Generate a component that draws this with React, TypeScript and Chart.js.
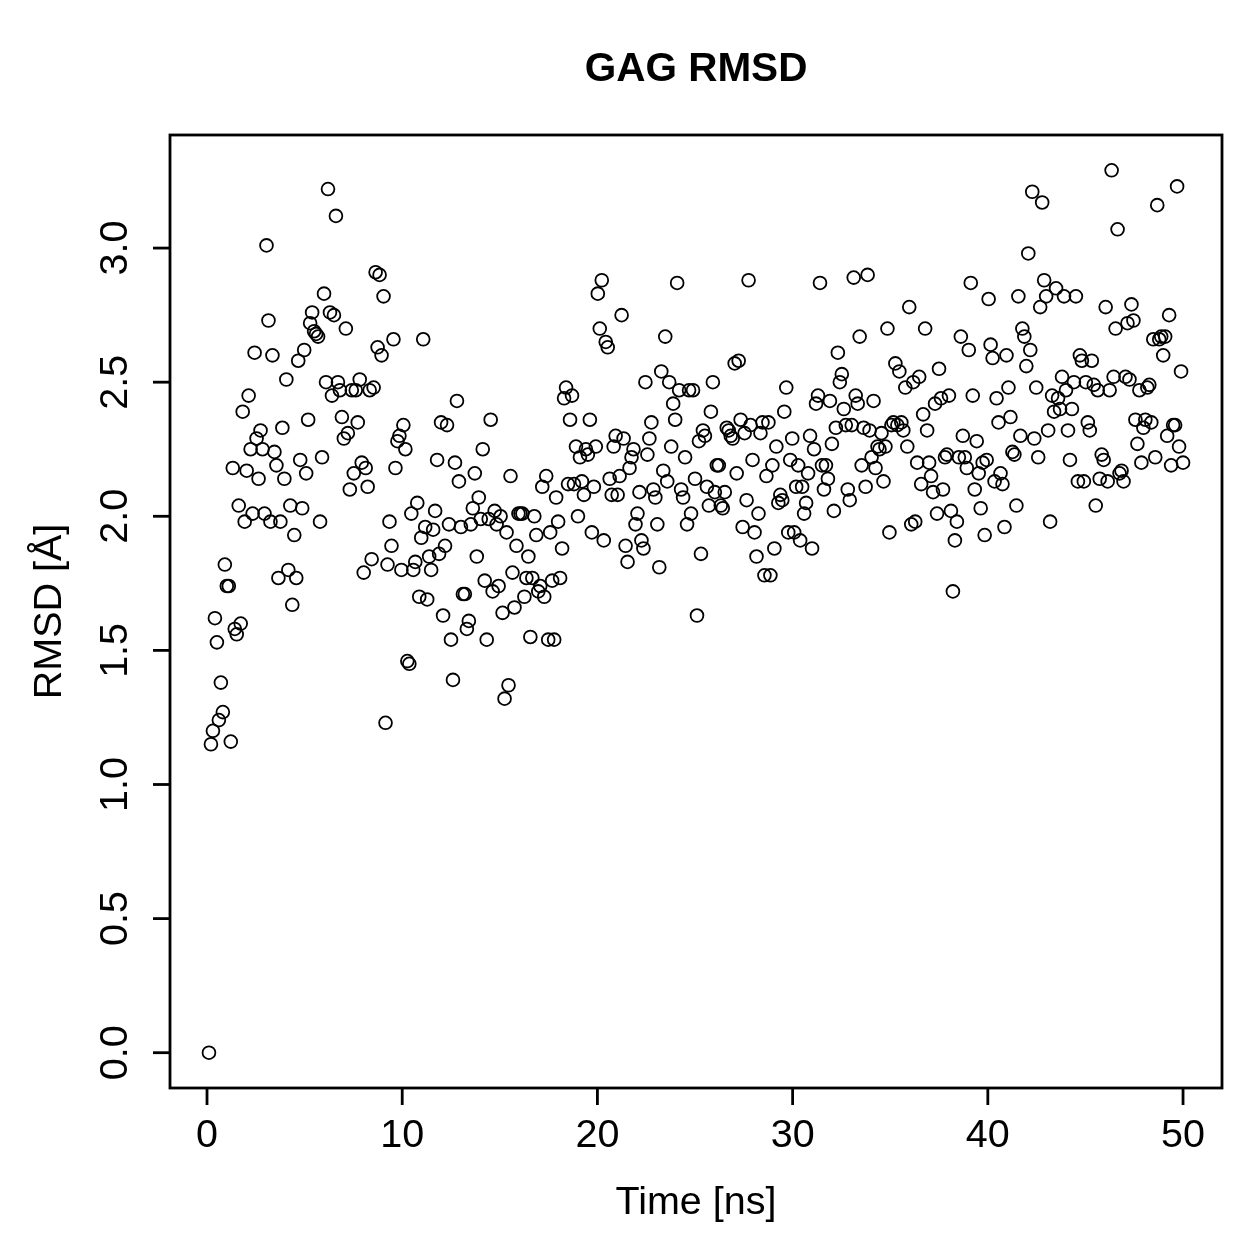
import React, { useEffect, useRef } from "react";
import { Chart, registerables } from "chart.js";

Chart.register(...registerables);

// RMSD of the GAG ligand, one value per saved frame (Å)
const RMSD = [
  0.00, 1.15, 1.20, 1.62, 1.53, 1.24, 1.38, 1.27, 1.82, 1.74, 1.74, 1.16, 2.18, 1.58, 1.56, 2.04, 1.60, 2.39, 1.98, 2.17,
  2.45, 2.25, 2.01, 2.61, 2.29, 2.14, 2.32, 2.25, 2.01, 3.01, 2.73, 1.98, 2.60, 2.24, 2.19, 1.77, 1.98, 2.33, 2.14, 2.51,
  1.80, 2.04, 1.67, 1.93, 1.77, 2.58, 2.21, 2.03, 2.62, 2.16, 2.36, 2.72, 2.76, 2.69, 2.68, 2.67, 1.98, 2.22, 2.83, 2.50,
  3.22, 2.76, 2.45, 2.75, 3.12, 2.50, 2.47, 2.37, 2.29, 2.70, 2.31, 2.10, 2.47, 2.16, 2.47, 2.35, 2.51, 2.20, 1.79, 2.18,
  2.11, 2.47, 1.84, 2.48, 2.91, 2.63, 2.90, 2.60, 2.82, 1.23, 1.82, 1.98, 1.89, 2.66, 2.18, 2.28, 2.30, 1.80, 2.34, 2.25,
  1.46, 1.45, 2.01, 1.80, 1.83, 2.05, 1.70, 1.92, 2.66, 1.96, 1.69, 1.85, 1.80, 1.95, 2.02, 2.21, 1.86, 2.35, 1.63, 1.89,
  2.34, 1.97, 1.54, 1.39, 2.20, 2.43, 2.13, 1.96, 1.71, 1.71, 1.58, 1.61, 1.97, 2.03, 2.16, 1.85, 2.07, 1.99, 2.25, 1.76,
  1.54, 1.99, 2.36, 1.72, 2.02, 1.97, 1.74, 2.00, 1.64, 1.32, 1.94, 1.37, 2.15, 1.79, 1.66, 1.89, 2.01, 2.01, 2.01, 1.70,
  1.77, 1.85, 1.55, 1.77, 2.00, 1.93, 1.72, 1.74, 2.11, 1.70, 2.15, 1.54, 1.94, 1.76, 1.54, 2.07, 1.98, 1.77, 1.88, 2.44,
  2.48, 2.12, 2.36, 2.45, 2.12, 2.26, 2.00, 2.22, 2.13, 2.08, 2.25, 2.23, 2.36, 1.94, 2.11, 2.26, 2.83, 2.70, 2.88, 1.91,
  2.65, 2.63, 2.14, 2.08, 2.26, 2.30, 2.08, 2.15, 2.75, 2.29, 1.89, 1.83, 2.18, 2.22, 2.25, 1.97, 2.01, 2.09, 1.91, 1.88,
  2.50, 2.23, 2.29, 2.35, 2.10, 2.07, 1.97, 1.81, 2.54, 2.17, 2.67, 2.13, 2.50, 2.26, 2.42, 2.36, 2.87, 2.47, 2.10, 2.07,
  2.22, 1.97, 2.47, 2.01, 2.47, 2.14, 1.63, 2.28, 1.86, 2.32, 2.30, 2.11, 2.04, 2.39, 2.50, 2.09, 2.19, 2.19, 2.04, 2.03,
  2.09, 2.33, 2.32, 2.30, 2.29, 2.57, 2.16, 2.58, 2.36, 1.96, 2.31, 2.06, 2.88, 2.34, 2.21, 1.94, 1.85, 2.01, 2.31, 2.35,
  1.78, 2.15, 2.35, 1.78, 2.19, 1.88, 2.26, 2.05, 2.08, 2.06, 2.39, 2.48, 1.94, 2.21, 2.29, 1.94, 2.11, 2.19, 1.91, 2.11,
  2.01, 2.05, 2.16, 2.30, 1.88, 2.25, 2.42, 2.45, 2.87, 2.19, 2.10, 2.19, 2.14, 2.43, 2.27, 2.02, 2.33, 2.61, 2.50, 2.53,
  2.40, 2.34, 2.10, 2.06, 2.34, 2.89, 2.45, 2.42, 2.67, 2.19, 2.33, 2.11, 2.90, 2.32, 2.22, 2.43, 2.18, 2.26, 2.25, 2.31,
  2.13, 2.26, 2.70, 1.94, 2.34, 2.35, 2.57, 2.34, 2.54, 2.35, 2.32, 2.48, 2.26, 2.78, 1.97, 2.50, 1.98, 2.20, 2.52, 2.12,
  2.38, 2.70, 2.32, 2.20, 2.15, 2.09, 2.42, 2.01, 2.55, 2.44, 2.10, 2.22, 2.23, 2.45, 2.02, 1.72, 1.91, 1.98, 2.22, 2.67,
  2.30, 2.22, 2.18, 2.62, 2.87, 2.45, 2.10, 2.28, 2.16, 2.03, 2.20, 1.93, 2.21, 2.81, 2.64, 2.59, 2.13, 2.44, 2.35, 2.16,
  2.12, 1.96, 2.60, 2.48, 2.37, 2.24, 2.23, 2.04, 2.82, 2.30, 2.70, 2.67, 2.56, 2.98, 2.62, 3.21, 2.29, 2.48, 2.22, 2.78,
  3.17, 2.88, 2.82, 2.32, 1.98, 2.45, 2.39, 2.85, 2.44, 2.40, 2.52, 2.82, 2.47, 2.32, 2.21, 2.40, 2.50, 2.82, 2.13, 2.60,
  2.58, 2.13, 2.50, 2.35, 2.32, 2.58, 2.49, 2.04, 2.47, 2.14, 2.23, 2.21, 2.78, 2.13, 2.47, 3.29, 2.52, 2.70, 3.07, 2.16,
  2.17, 2.13, 2.52, 2.72, 2.51, 2.79, 2.73, 2.36, 2.27, 2.47, 2.20, 2.33, 2.36, 2.48, 2.49, 2.35, 2.66, 2.22, 3.16, 2.66,
  2.67, 2.60, 2.67, 2.30, 2.75, 2.19, 2.34, 2.34, 3.23, 2.26, 2.54, 2.20,
];

// Frames are saved at a fixed interval from the first to the last frame (ns)
const FIRST_FRAME_NS = 0.1;
const LAST_FRAME_NS = 50;
const TIME = RMSD.map(
  (_, i) => FIRST_FRAME_NS + (i * (LAST_FRAME_NS - FIRST_FRAME_NS)) / (RMSD.length - 1)
);

const X_TICKS = [0, 10, 20, 30, 40, 50];
const Y_TICKS = [0, 0.5, 1, 1.5, 2, 2.5, 3];
const Y_TICK_LABELS = ["0.0", "0.5", "1.0", "1.5", "2.0", "2.5", "3.0"];

const TITLE = "GAG RMSD";
const X_TITLE = "Time [ns]";
const Y_TITLE = "RMSD [Å]";

const FONT = '"Liberation Sans", Arial, sans-serif';

// base-graphics style range: data range widened by 4% on each side
function paddedRange(values: number[]) {
  const lo = Math.min(...values);
  const hi = Math.max(...values);
  const pad = (hi - lo) * 0.04;
  return { min: lo - pad, max: hi + pad };
}

const framePlugin = {
  id: "frame",
  afterDraw(chart: any) {
    const { ctx, chartArea: a, scales } = chart;
    const x = scales.x;
    const y = scales.y;
    const tick = 17;
    ctx.save();
    ctx.strokeStyle = "#000";
    ctx.fillStyle = "#000";
    ctx.lineWidth = 2.8;
    ctx.strokeRect(a.left, a.top, a.right - a.left, a.bottom - a.top);

    ctx.font = `39.5px ${FONT}`;
    ctx.textAlign = "center";
    ctx.textBaseline = "middle";

    X_TICKS.forEach((v) => {
      const px = x.getPixelForValue(v);
      ctx.beginPath();
      ctx.moveTo(px, a.bottom);
      ctx.lineTo(px, a.bottom + tick);
      ctx.stroke();
      ctx.fillText(String(v), px, a.bottom + 48);
    });

    Y_TICKS.forEach((v, i) => {
      const py = y.getPixelForValue(v);
      ctx.beginPath();
      ctx.moveTo(a.left - tick, py);
      ctx.lineTo(a.left, py);
      ctx.stroke();
      ctx.save();
      ctx.translate(a.left - 54, py);
      ctx.rotate(-Math.PI / 2);
      ctx.fillText(Y_TICK_LABELS[i], 0, 0);
      ctx.restore();
    });

    const cx = (a.left + a.right) / 2;
    const cy = (a.top + a.bottom) / 2;
    ctx.fillText(X_TITLE, cx, a.bottom + 115);
    ctx.save();
    ctx.translate(a.left - 120, cy);
    ctx.rotate(-Math.PI / 2);
    ctx.fillText(Y_TITLE, 0, 0);
    ctx.restore();

    ctx.font = `bold 40.5px ${FONT}`;
    ctx.fillText(TITLE, cx, 70);
    ctx.restore();
  },
};

export default function App() {
  const canvasRef = useRef<HTMLCanvasElement | null>(null);

  useEffect(() => {
    if (!canvasRef.current) return;
    const xr = paddedRange(TIME);
    const yr = paddedRange(RMSD);
    const chart = new Chart(canvasRef.current, {
      type: "scatter",
      data: {
        datasets: [
          {
            label: "RMSD",
            data: TIME.map((t, i) => ({ x: t, y: RMSD[i] })),
            pointStyle: "circle",
            pointRadius: 6.4,
            pointBorderWidth: 1.8,
            borderColor: "#000",
            backgroundColor: "rgba(0,0,0,0)",
            pointBackgroundColor: "rgba(0,0,0,0)",
            pointBorderColor: "#000",
          },
        ],
      },
      options: {
        responsive: false,
        animation: false,
        events: [],
        layout: { padding: { left: 170, top: 135, right: 37, bottom: 171 } },
        plugins: {
          legend: { display: false },
          title: { display: false },
          tooltip: { enabled: false },
        },
        scales: {
          x: { type: "linear", display: false, min: xr.min, max: xr.max },
          y: { type: "linear", display: false, min: yr.min, max: yr.max },
        },
      },
      plugins: [framePlugin],
    });
    return () => chart.destroy();
  }, []);

  return (
    <div style={{ position: "fixed", left: 0, top: 0, width: 1259, height: 1259, background: "#fff" }}>
      <canvas ref={canvasRef} width={1259} height={1259} />
    </div>
  );
}
